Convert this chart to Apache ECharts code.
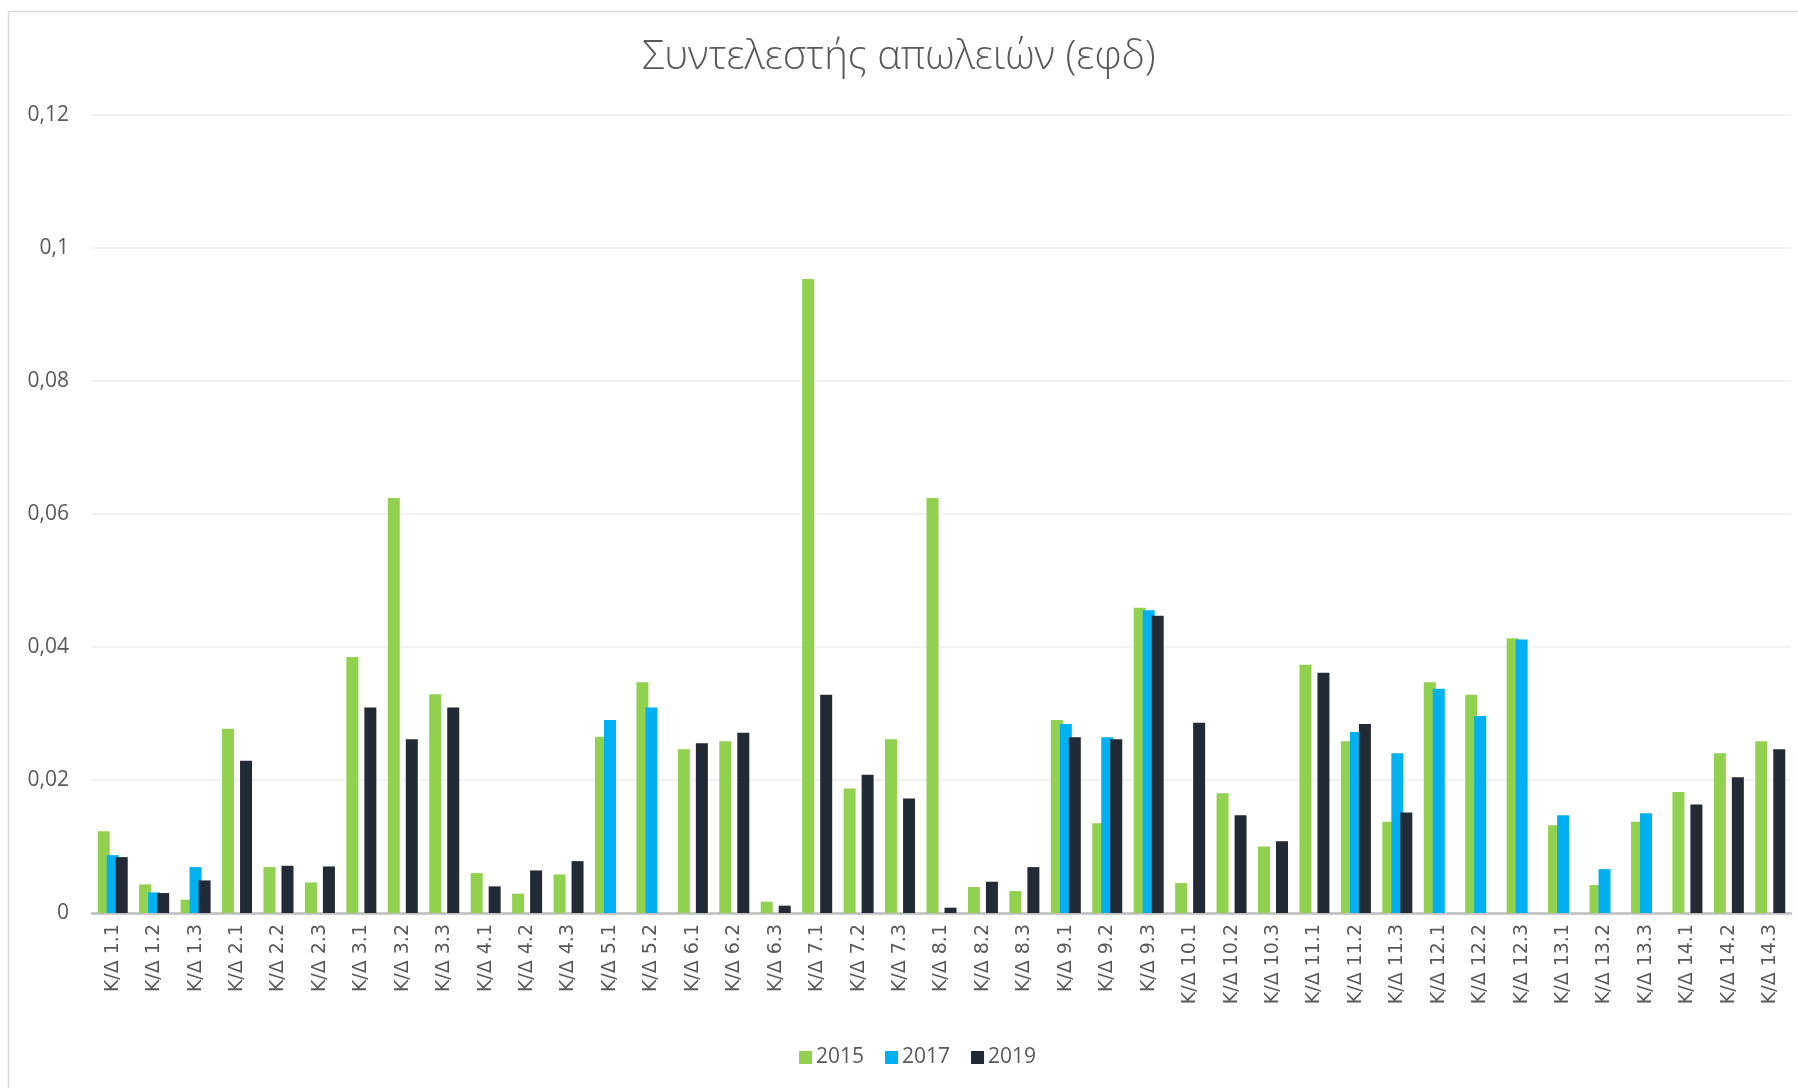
<!DOCTYPE html>
<html>
<head>
<meta charset="utf-8">
<title>Συντελεστής απωλειών (εφδ)</title>
<script src="https://cdn.jsdelivr.net/npm/echarts@6/dist/echarts.min.js"></script>
<style>
  html, body { margin: 0; padding: 0; background: #ffffff; }
  #chart { width: 1798px; height: 1088px; }
</style>
</head>
<body>
<div id="chart"></div>
<script>
// Categories: K/Δ groups 1–14, sub-items .1–.3
const categories = [
  'K/Δ 1.1','K/Δ 1.2','K/Δ 1.3','K/Δ 2.1','K/Δ 2.2','K/Δ 2.3',
  'K/Δ 3.1','K/Δ 3.2','K/Δ 3.3','K/Δ 4.1','K/Δ 4.2','K/Δ 4.3',
  'K/Δ 5.1','K/Δ 5.2','K/Δ 6.1','K/Δ 6.2','K/Δ 6.3','K/Δ 7.1',
  'K/Δ 7.2','K/Δ 7.3','K/Δ 8.1','K/Δ 8.2','K/Δ 8.3','K/Δ 9.1',
  'K/Δ 9.2','K/Δ 9.3','K/Δ 10.1','K/Δ 10.2','K/Δ 10.3','K/Δ 11.1',
  'K/Δ 11.2','K/Δ 11.3','K/Δ 12.1','K/Δ 12.2','K/Δ 12.3','K/Δ 13.1',
  'K/Δ 13.2','K/Δ 13.3','K/Δ 14.1','K/Δ 14.2','K/Δ 14.3'
];

const values2015 = [
  0.0123, 0.0043, 0.0020, 0.0277, 0.0069, 0.0046,
  0.0385, 0.0624, 0.0329, 0.0060, 0.0029, 0.0058,
  0.0265, 0.0347, 0.0246, 0.0258, 0.0017, 0.0953,
  0.0187, 0.0261, 0.0624, 0.0039, 0.0033, 0.0290,
  0.0135, 0.0459, 0.0045, 0.0180, 0.0100, 0.0373,
  0.0258, 0.0137, 0.0347, 0.0328, 0.0413, 0.0132,
  0.0042, 0.0137, 0.0182, 0.0240, 0.0258
];

const values2017 = [
  0.0087, 0.0031, 0.0069, null, null, null,
  null, null, null, null, null, null,
  0.0290, 0.0309, null, null, null, null,
  null, null, null, null, null, 0.0284,
  0.0264, 0.0455, null, null, null, null,
  0.0272, 0.0240, 0.0337, 0.0296, 0.0411, 0.0147,
  0.0066, 0.0150, null, null, null
];

const values2019 = [
  0.0084, 0.0030, 0.0049, 0.0229, 0.0071, 0.0070,
  0.0309, 0.0261, 0.0309, 0.0040, 0.0064, 0.0078,
  null, null, 0.0255, 0.0271, 0.0011, 0.0328,
  0.0208, 0.0172, 0.0008, 0.0047, 0.0069, 0.0264,
  0.0261, 0.0447, 0.0286, 0.0147, 0.0108, 0.0361,
  0.0284, 0.0151, null, null, null, null,
  null, null, 0.0163, 0.0204, 0.0246
];

const seriesNames = ['2015', '2017', '2019'];
const seriesColors = ['#92D050', '#00B0F0', '#222A35'];
const seriesValues = [values2015, values2017, values2019];

const chart = echarts.init(document.getElementById('chart'), null, { renderer: 'canvas' });

const option = {
  backgroundColor: '#ffffff',
  animation: false,
  graphic: [{
    type: 'rect',
    shape: { x: 8.5, y: 11.5, width: 1800, height: 1100 },
    style: { fill: 'none', stroke: '#D9D9D9', lineWidth: 1.5 },
    silent: true,
    z: -1
  }],
  title: {
    text: 'Συντελεστής απωλειών (εφδ)',
    left: 'center',
    top: 33,
    textStyle: {
      fontFamily: 'Open Sans',
      fontWeight: 300,
      fontSize: 40,
      color: '#595959'
    }
  },
  legend: {
    data: seriesNames,
    left: 794,
    top: 1042,
    itemWidth: 13,
    itemHeight: 13,
    itemGap: 21,
    icon: 'rect',
    textStyle: { fontFamily: 'Open Sans', fontSize: 21, color: '#595959', padding: [0, 0, 0, -1] }
  },
  grid: {
    left: 92,
    right: 7,
    top: 114.7,
    bottom: 175,
    containLabel: false
  },
  xAxis: {
    type: 'category',
    data: categories,
    axisTick: { show: false },
    axisLine: { lineStyle: { color: '#BFBFBF', width: 2.5 } },
    axisLabel: {
      rotate: 90,
      interval: 0,
      margin: 11,
      fontFamily: 'DejaVu Sans',
      fontSize: 19,
      color: '#595959'
    }
  },
  yAxis: {
    type: 'value',
    min: 0,
    max: 0.12,
    interval: 0.02,
    axisLine: { show: false },
    axisTick: { show: false },
    splitLine: { lineStyle: { color: '#EEEEEE', width: 1.5 } },
    axisLabel: {
      margin: 23,
      fontFamily: 'Open Sans',
      fontSize: 21,
      color: '#595959',
      formatter: v => String(parseFloat(v.toFixed(2))).replace('.', ',')
    }
  },
  series: seriesNames.map((name, i) => ({
    name: name,
    type: 'bar',
    data: seriesValues[i],
    barWidth: 12,
    barGap: '-25%',
    itemStyle: { color: seriesColors[i] }
  }))
};

chart.setOption(option);
</script>
</body>
</html>
